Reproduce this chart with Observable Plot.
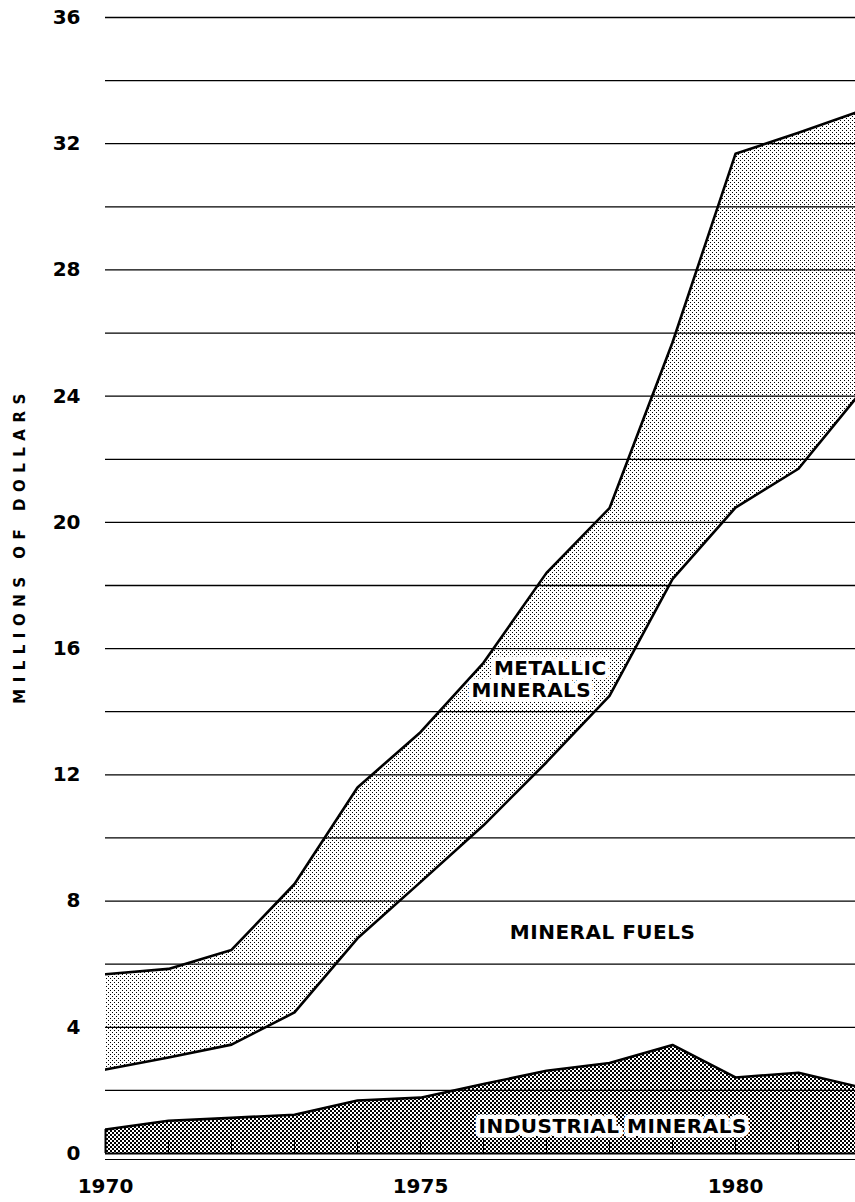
<!DOCTYPE html>
<html>
<head>
<meta charset="utf-8">
<script src="https://cdn.jsdelivr.net/npm/d3@7"></script>
<script src="https://cdn.jsdelivr.net/npm/@observablehq/plot@0.6"></script>
<style>
  html, body { margin: 0; padding: 0; background: #fff; }
  #chart { width: 855px; height: 1202px; overflow: hidden; }
</style>
</head>
<body>
<div id="chart"></div>
<script>
// ---- data (millions of dollars) ----
const years = [1970, 1971, 1972, 1973, 1974, 1975, 1976, 1977, 1978, 1979, 1980, 1981, 1982];
const industrialMinerals = [0.76, 1.04, 1.13, 1.23, 1.68, 1.77, 2.20, 2.62, 2.87, 3.44, 2.41, 2.56, 2.09];
const mineralFuels       = [1.90, 2.00, 2.32, 3.24, 5.14, 6.83, 8.20, 9.78, 11.63, 14.76, 18.06, 19.14, 22.06];
const metallicMinerals   = [3.02, 2.81, 3.00, 4.07, 4.78, 4.75, 5.15, 6.00, 5.95, 7.50, 11.21, 10.65, 8.90];

const yTickLabels = [0, 4, 8, 12, 16, 20, 24, 28, 32, 36];
const gridLines = [2, 4, 6, 8, 10, 12, 14, 16, 18, 20, 22, 24, 26, 28, 30, 32, 34, 36];
const xTickLabels = [1970, 1975, 1980];
const yTitle = "MILLIONS OF DOLLARS";

const seriesLabels = [
  {text: "METALLIC", x: 1977.06, y: 15.37},
  {text: "MINERALS", x: 1976.76, y: 14.67},
  {text: "MINERAL FUELS", x: 1977.89, y: 7.0},
  {text: "INDUSTRIAL MINERALS", x: 1978.05, y: 0.86}
];

// stacked table built from the series
const rows = years.map((year, i) => {
  const ind = industrialMinerals[i];
  const fuel = ind + mineralFuels[i];
  const total = fuel + metallicMinerals[i];
  return {year, ind, fuel, total};
});

const lineW = 2.6;

const svg = Plot.plot({
  width: 855,
  height: 1202,
  marginLeft: 105,
  marginRight: 0,
  marginTop: 17,
  marginBottom: 49,
  style: {fontFamily: "'DejaVu Sans', sans-serif", fontSize: "20px", fontWeight: "bold", color: "black", background: "#ffffff"},
  x: {domain: [1970, 1982], range: [105, 861]},
  y: {domain: [0, 36], range: [1153, 17]},
  marks: [
    Plot.areaY(rows, {x: "year", y1: 0, y2: "ind", fill: "url(#dense)", clip: true}),
    Plot.areaY(rows, {x: "year", y1: "fuel", y2: "total", fill: "url(#light)", clip: true}),
    Plot.ruleY(gridLines, {stroke: "black", strokeWidth: 1.3}),
    Plot.ruleY([0], {stroke: "black", strokeWidth: 2.2}),
    Plot.ruleY([0], {stroke: "black", strokeWidth: 1.2, dy: 6}),
    Plot.ruleX(years, {x: d => d, y1: 0, y2: 0, insetTop: -13, stroke: "black", strokeWidth: 1}),
    Plot.ruleX([years[0]], {x: d => d, y1: 0, y2: industrialMinerals[0], stroke: "black", strokeWidth: 2}),
    Plot.lineY(rows, {x: "year", y: "ind", stroke: "black", strokeWidth: lineW, clip: true}),
    Plot.lineY(rows, {x: "year", y: "fuel", stroke: "black", strokeWidth: lineW, clip: true}),
    Plot.lineY(rows, {x: "year", y: "total", stroke: "black", strokeWidth: lineW, clip: true}),
    Plot.axisY(yTickLabels, {tickSize: 0, tickPadding: 25, label: null, fontSize: 20, fontWeight: "bold"}),
    Plot.axisX(xTickLabels, {tickSize: 0, tickPadding: 25, label: null, tickFormat: d => String(d), fontSize: 20, fontWeight: "bold"}),
    Plot.text(seriesLabels, {x: "x", y: "y", text: "text", fill: "black", stroke: "white", strokeWidth: 9, fontSize: 20, fontWeight: "bold"}),
    Plot.text([yTitle], {text: d => d, frameAnchor: "left", textAnchor: "middle", dx: -85, dy: -40, rotate: -90, fontSize: 15, fontWeight: "bold", fill: "black"})
  ]
});

d3.select(svg).insert("defs", ":first-child").html(`
  <pattern id="light" width="4" height="4" patternUnits="userSpaceOnUse">
    <rect width="4" height="4" fill="white"/>
    <rect x="0" y="0" width="1" height="1" fill="black"/>
    <rect x="2" y="2" width="1" height="1" fill="black"/>
  </pattern>
  <pattern id="dense" width="4" height="4" patternUnits="userSpaceOnUse">
    <rect width="4" height="4" fill="white"/>
    <rect x="0" y="0" width="2" height="2" fill="black"/>
    <rect x="2" y="2" width="2" height="2" fill="black"/>
  </pattern>
`);

d3.select(svg).selectAll("text").filter(function () { return this.textContent === yTitle; })
  .style("letter-spacing", "6.5px");
d3.select(svg).selectAll("text").filter(function () { return seriesLabels.some(l => l.text === this.textContent); })
  .style("letter-spacing", "0.5px");

document.getElementById("chart").appendChild(svg);
</script>
</body>
</html>
